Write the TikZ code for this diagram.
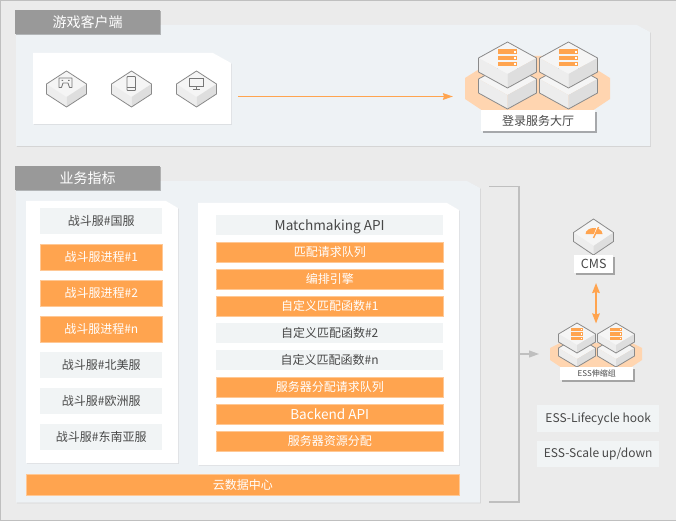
\documentclass[tikz,border=0pt]{standalone}
\usepackage{fontspec}
\setmainfont{Noto Sans CJK SC}
\usetikzlibrary{arrows.meta,shadows}
\definecolor{bgc}{HTML}{EBEBEB}
\definecolor{panelc}{HTML}{EEF2F5}
\definecolor{tabc}{HTML}{999999}
\definecolor{orangec}{HTML}{FFA44F}
\definecolor{halo}{HTML}{FFD5B0}
\definecolor{greyitem}{HTML}{F1F4F5}
\definecolor{txtc}{HTML}{484848}
\definecolor{linec}{HTML}{BFBFBF}
\definecolor{edgec}{HTML}{8A8A8A}
\definecolor{iconc}{HTML}{777777}
\tikzset{
  panel/.style={fill=panelc,draw=none,drop shadow={shadow xshift=0.8pt,shadow yshift=-0.8pt,opacity=.09,fill=black}},
  card/.style={fill=white,draw=none,drop shadow={shadow xshift=0.8pt,shadow yshift=-0.8pt,opacity=.07,fill=black}},
  tab/.style={fill=tabc,draw=none,text=white,font=\fontsize{14}{14}\selectfont,anchor=north west,inner sep=0pt,minimum width=145pt,minimum height=24pt,drop shadow={shadow xshift=1pt,shadow yshift=-1pt,opacity=.25,fill=black}},
  item/.style={anchor=north west,inner sep=0pt,font=\fontsize{12}{13}\selectfont},
  orangeitem/.style={item,fill=orangec,text=white,draw=orangec!60!white,line width=.5pt},
  greybox/.style={item,fill=greyitem,text=txtc},
  latinfont/.style={font=\fontsize{13.6}{14}\selectfont},
  labelbox/.style={fill=white,text=txtc,anchor=north west,inner sep=0pt,drop shadow={shadow xshift=1.5pt,shadow yshift=-1.5pt,opacity=.3,fill=black}},
  flow/.style={draw=orangec,line width=1.5pt},
  bracket/.style={draw=linec,line width=1.1pt},
  cubeedge/.style={draw=edgec,line width=.8pt,line join=round},
  % origin: front vertex of the top face; args half width / half height of top / depth
  pics/cube/.style args={#1/#2/#3}{code={
    \fill[white!96!black] (-#1,-#2)--(0,-2*#2)--(#1,-#2)--(0,0)--cycle;
    \fill[white!93!black] (-#1,-#2)--(0,0)--(0,#3)--(-#1,#3-#2)--cycle;
    \fill[white!87!black] (#1,-#2)--(0,0)--(0,#3)--(#1,#3-#2)--cycle;
    \draw[cubeedge] (0,-2*#2)--(#1,-#2)--(#1,#3-#2)--(0,#3)--(-#1,#3-#2)--(-#1,-#2)--cycle;
  }},
  % origin: top centre of the rack; args half width / bar height
  pics/rack/.style args={#1/#2}{code={
    \foreach \k in {0,1,2}{
      \fill[orangec] (-#1,\k*#2*1.35) rectangle (#1,\k*#2*1.35+#2);
      \fill[white] (#1*.65,\k*#2*1.35+#2*.3) rectangle (#1*.85,\k*#2*1.35+#2*.7);
    }
  }},
}
\begin{document}
\begin{tikzpicture}[x=1pt,y=-1pt]
\useasboundingbox (0,0) rectangle (676,521);
\fill[bgc] (0,0) rectangle (676,521);
\draw[linec,line width=1pt] (676,.5)--(.5,.5)--(.5,520.5)--(676,520.5);

% top panel
\path[panel] (16,25)--(637,25)--(650,32)--(650,146)--(16,146)--cycle;
\node[tab] (t1) at (15,10) {游戏客户端};
\path[card] (33,53)--(213,53)--(231,63)--(231,124)--(33,124)--cycle;

\pic at (66.5,97) {cube={20/13/10}};
\pic at (131.5,97) {cube={20/13/10}};
\pic at (196.5,97) {cube={20/13/10}};
% gamepad icon
\draw[iconc,line width=.8pt,line join=round] (59,87.5)--(59,78)--(72,78)--(72,87.5)--(69.5,87.5)--(68,83)--(63,83)--(61.5,87.5)--cycle;
\fill[iconc] (61.5,80) rectangle (63,81) (68,80) rectangle (69.5,81);
% phone icon
\draw[iconc,line width=.8pt,rounded corners=.8pt] (127,76.5) rectangle (135.5,90.5);
\draw[iconc,line width=.6pt] (127,87.5)--(135.5,87.5);
% monitor icon
\draw[iconc,line width=.9pt] (189.5,78) rectangle (203,86.5);
\draw[iconc,line width=.8pt] (196.2,86.5)--(196.2,89.5) (193,89.8)--(199.5,89.8);

\coordinate (c1) at (238,96.5);
\coordinate (lobby) at (453,96.5);
\draw[flow,-{Stealth[length=10pt,width=6.5pt,inset=1pt]}] (c1)--(lobby);

% lobby
\fill[halo] (465,78)--(500,56)--(575,56)--(610,78)--(610,99)--(592,111)--(483,111)--(465,99)--cycle;
\pic at (507.5,95) {cube={29/16/14}};
\pic at (568.5,95) {cube={29/16/14}};
\pic at (507.5,74) {cube={29/16/14}};
\pic at (568.5,74) {cube={29/16/14}};
\pic at (507.5,49.5) {rack={9.5/4.5}};
\pic at (568.5,49.5) {rack={9.5/4.5}};
\node[labelbox,minimum width=114pt,minimum height=21pt,font=\fontsize{12}{13}\selectfont] (ll) at (481,110) {登录服务大厅};

% second panel
\path[panel] (16,181)--(467,181)--(480,188)--(480,502.5)--(16,502.5)--cycle;
\node[tab] (t2) at (15,166) {业务指标};
\path[card] (26,201)--(166,201)--(178,208)--(178,463)--(26,463)--cycle;
\path[card] (198,203)--(447,203)--(459,210)--(459,465)--(198,465)--cycle;

% left column
\node[greybox,minimum width=122pt,minimum height=26pt] (a1) at (40,208) {战斗服\#国服};
\node[orangeitem,minimum width=122pt,minimum height=26pt] (a2) at (40,244) {战斗服进程\#1};
\node[orangeitem,minimum width=122pt,minimum height=26pt] (a3) at (40,280) {战斗服进程\#2};
\node[orangeitem,minimum width=122pt,minimum height=26pt] (a4) at (40,316) {战斗服进程\#n};
\node[greybox,minimum width=122pt,minimum height=26pt] (a5) at (40,352) {战斗服\#北美服};
\node[greybox,minimum width=122pt,minimum height=26pt] (a6) at (40,388) {战斗服\#欧洲服};
\node[greybox,minimum width=122pt,minimum height=26pt] (a7) at (40,424) {战斗服\#东南亚服};

% right column
\node[greybox,latinfont,text depth=0pt,minimum width=227pt,minimum height=20pt] (b1) at (216,215) {Matchmaking API};
\node[orangeitem,minimum width=227pt,minimum height=20pt] (b2) at (216,242) {匹配请求队列};
\node[orangeitem,minimum width=227pt,minimum height=20pt] (b3) at (216,269) {编排引擎};
\node[orangeitem,minimum width=227pt,minimum height=20pt] (b4) at (216,296) {自定义匹配函数\#1};
\node[greybox,minimum width=227pt,minimum height=20pt] (b5) at (216,323) {自定义匹配函数\#2};
\node[greybox,minimum width=227pt,minimum height=20pt] (b6) at (216,350) {自定义匹配函数\#n};
\node[orangeitem,minimum width=227pt,minimum height=20pt] (b7) at (216,377) {服务器分配请求队列};
\node[orangeitem,latinfont,minimum width=227pt,minimum height=20pt] (b8) at (216,404) {Backend API};
\node[orangeitem,minimum width=227pt,minimum height=20pt] (b9) at (216,431) {服务器资源分配};

\node[orangeitem,minimum width=433pt,minimum height=21pt] (dc) at (26,474) {云数据中心};

% bracket
\coordinate (br1) at (489,186.5);
\coordinate (br2) at (519,186.5);
\coordinate (br3) at (519,502);
\coordinate (br4) at (489,502);
\draw[bracket] (br1)--(br2)--(br3)--(br4);
\coordinate (bm) at (519,354);
\coordinate (be) at (539,354);
\draw[bracket,-{Stealth[length=10pt,width=7pt,inset=0pt]}] (bm)--(be);

% CMS
\pic at (593.5,246) {cube={20/13.5/9}};
\fill[orangec] (585.5,234) .. controls (586,226) and (602,226) .. (602.5,234) -- cycle;
\draw[white,line width=1.4pt] (598,225.5)--(594,236);
\draw[orangec,line width=1.4pt] (598.5,227)--(593.5,238);
\node[labelbox,minimum width=39pt,minimum height=18pt,font=\fontsize{12.5}{13}\selectfont] (cms) at (574,255) {CMS};

% ESS
\fill[halo] (550,348)--(560,343)--(632,343)--(642,348)--(642,360)--(630,368)--(562,368)--(550,360)--cycle;
\pic at (577,359) {cube={18.5/11/8}};
\pic at (616,359) {cube={18.5/11/8}};
\pic at (577,345) {cube={18.5/11/8}};
\pic at (616,345) {cube={18.5/11/8}};
\pic at (577,328) {rack={6/3.3}};
\pic at (616,328) {rack={6/3.3}};
\node[labelbox,minimum width=73pt,minimum height=13pt,font=\fontsize{8}{9}\selectfont] (ess) at (560,367) {ESS伸缩组};

\coordinate (e1) at (596,283);
\coordinate (e2) at (596,323.5);
\draw[orangec,line width=1.8pt,{Stealth[length=10pt,width=7.5pt,inset=1pt]}-{Stealth[length=10pt,width=7.5pt,inset=1pt]}] (e1)--(e2);

\node[greybox,anchor=north west,minimum width=122pt,minimum height=27pt] (h1) at (537,405) {ESS-Lifecycle hook};
\node[greybox,anchor=north west,minimum width=122pt,minimum height=26pt] (h2) at (537,441) {ESS-Scale up/down};
\end{tikzpicture}
\end{document}
